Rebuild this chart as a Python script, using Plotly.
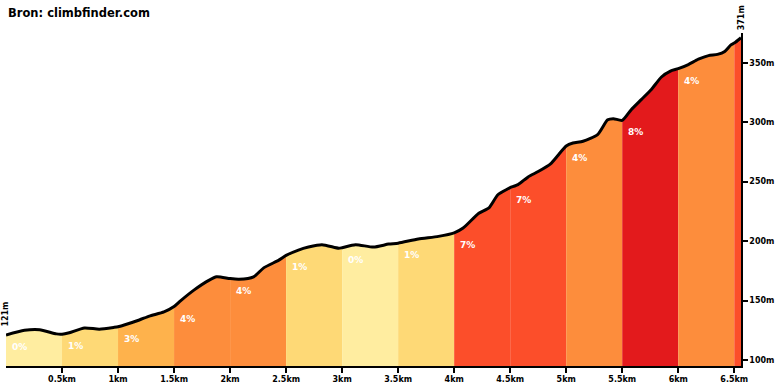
import numpy as np
import plotly.graph_objects as go

# Elevation profile (distance in km, elevation in m)
dist_km = [0, 0.165, 0.30, 0.45, 0.5, 0.565, 0.70, 0.833, 0.966, 1.0, 1.055, 1.19, 1.28, 1.41,
           1.5, 1.56, 1.68, 1.81, 1.88, 2.0, 2.08, 2.21, 2.30, 2.435, 2.5, 2.61, 2.70, 2.82,
           2.97, 3.0, 3.12, 3.28, 3.415, 3.5, 3.68, 3.86, 4.0, 4.08, 4.22, 4.31, 4.39, 4.48,
           4.5, 4.57, 4.66, 4.75, 4.86, 4.93, 5.0, 5.06, 5.15, 5.28, 5.37, 5.42, 5.5, 5.58,
           5.67, 5.76, 5.85, 5.93, 6.0, 6.09, 6.18, 6.27, 6.35, 6.415, 6.47, 6.5, 6.56]
elev_m = [121, 125, 125.5, 122, 121.8, 123, 127, 126, 127.5, 128, 129.5, 133.7, 137, 140.5,
          145, 150, 159, 167, 170, 168.5, 168, 170, 177.5, 184, 188, 192.5, 195, 197,
          194, 194.5, 197, 195, 197.5, 198.3, 201.8, 204, 207, 211, 223.5, 228, 239, 244,
          245, 247.5, 254, 258.5, 265, 272.5, 280, 282.5, 284, 289.5, 302, 303, 301.5, 310.5,
          319, 327.5, 338, 343, 345, 348.5, 353, 356, 357, 359.5, 365, 366.5, 371]

# Gradient segments
seg_edges = [0, 0.5, 1.0, 1.5, 2.0, 2.5, 3.0, 3.5, 4.0, 4.5, 5.0, 5.5, 6.0, 6.5, 6.56]
seg_grades = [0, 1, 3, 4, 4, 1, 0, 1, 7, 7, 4, 8, 4, 7]

x_tick_vals = [0.5, 1, 1.5, 2, 2.5, 3, 3.5, 4, 4.5, 5, 5.5, 6, 6.5]
x_tick_text = ["0.5km", "1km", "1.5km", "2km", "2.5km", "3km", "3.5km", "4km", "4.5km",
               "5km", "5.5km", "6km", "6.5km"]
y_tick_vals = [100, 150, 200, 250, 300, 350]
y_tick_text = ["100m", "150m", "200m", "250m", "300m", "350m"]

title_text = "Bron: climbfinder.com"
start_label = "121m"
end_label = "371m"

grade_colors = {0: "#FFEDA0", 1: "#FED976", 3: "#FEB24C", 4: "#FD8D3C",
                7: "#FC4E2A", 8: "#E31A1C"}

d = np.array(dist_km)
e = np.array(elev_m)

fig = go.Figure()
FONT = "DejaVu Sans"

for i, g in enumerate(seg_grades):
    a, b = seg_edges[i], seg_edges[i + 1]
    m = (d >= a - 1e-9) & (d <= b + 1e-9)
    fig.add_trace(go.Scatter(
        x=d[m], y=e[m], mode="lines", fill="tozeroy",
        fillcolor=grade_colors[g], line=dict(width=0, shape="spline", smoothing=0.6),
        hoverinfo="skip", showlegend=False))

fig.add_trace(go.Scatter(
    x=d, y=e, mode="lines", line=dict(color="black", width=3, shape="spline", smoothing=0.6),
    hoverinfo="skip", showlegend=False))

annotations = []
for i, g in enumerate(seg_grades):
    a, b = seg_edges[i], seg_edges[i + 1]
    if b - a < 0.3:
        continue
    ya = float(np.interp(a, d, e))
    annotations.append(dict(
        x=a, y=ya, xref="x", yref="y", text=f"{g}%", showarrow=False,
        xanchor="left", yanchor="top", xshift=4, yshift=-5,
        font=dict(family=FONT, size=9, color="white", weight="bold")))

annotations.append(dict(
    x=dist_km[0], y=elev_m[0], xref="x", yref="y", text=start_label, showarrow=False,
    textangle=-90, xanchor="center", yanchor="bottom", yshift=6,
    font=dict(family=FONT, size=8, color="black", weight="bold")))
annotations.append(dict(
    x=dist_km[-1], y=elev_m[-1], xref="x", yref="y", text=end_label, showarrow=False,
    textangle=-90, xanchor="center", yanchor="bottom", yshift=5,
    font=dict(family=FONT, size=8, color="black", weight="bold")))
annotations.append(dict(
    x=0, y=1, xref="paper", yref="paper", text=title_text, showarrow=False,
    xanchor="left", yanchor="middle", yshift=20,
    font=dict(family=FONT, size=11.5, color="black", weight="bold")))

fig.update_layout(
    width=780, height=390,
    margin=dict(l=6, r=37, t=33, b=24),
    paper_bgcolor="white", plot_bgcolor="white",
    showlegend=False, hovermode=False,
    annotations=annotations,
    xaxis=dict(range=[0, 6.56], tickvals=x_tick_vals, ticktext=x_tick_text,
               ticks="outside", ticklen=5, tickwidth=1.5, tickcolor="black",
               showline=True, linecolor="black", linewidth=1.5,
               showgrid=False, zeroline=False,
               tickfont=dict(family=FONT, size=8, color="black", weight="bold")),
    yaxis=dict(range=[95, 375], side="right", tickvals=y_tick_vals, ticktext=y_tick_text,
               ticks="outside", ticklen=5, tickwidth=1.5, tickcolor="black",
               showline=True, linecolor="black", linewidth=1.5,
               showgrid=False, zeroline=False,
               tickfont=dict(family=FONT, size=8, color="black", weight="bold")),
)

fig.write_html("out.html", config={"displayModeBar": False},
               post_script="document.body.style.margin='0';")
